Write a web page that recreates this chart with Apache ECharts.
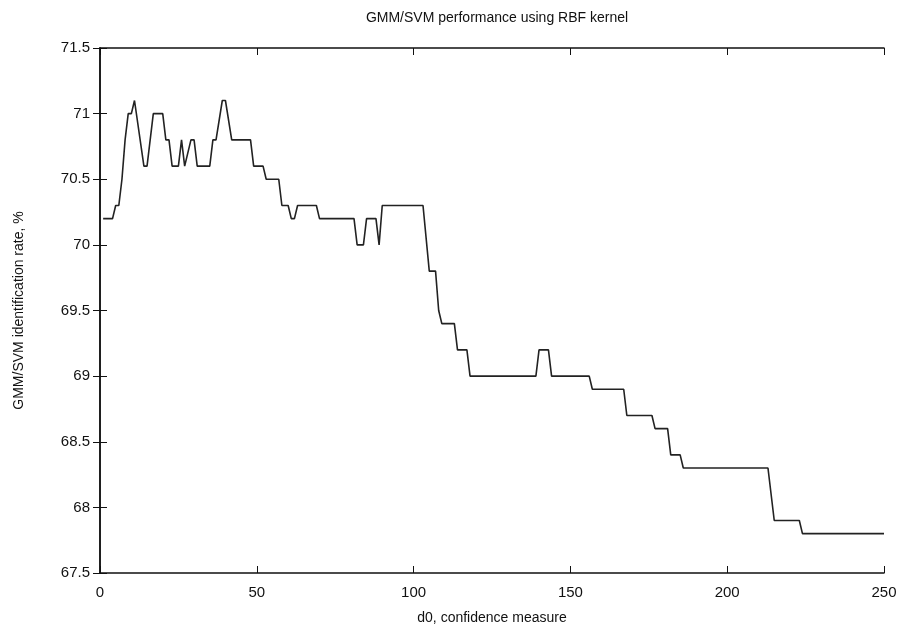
<!DOCTYPE html>
<html>
<head>
<meta charset="utf-8">
<script src="https://cdn.jsdelivr.net/npm/echarts@6/dist/echarts.min.js"></script>
<style>html,body{margin:0;padding:0;background:#fff}#c{width:906px;height:630px}</style>
</head>
<body>
<div id="c"></div>
<script>
var titleText = 'GMM/SVM performance using RBF kernel';
var xName = 'd0, confidence measure';
var yName = 'GMM/SVM identification rate, %';
var d0 = [1, 4, 5, 6, 7, 8, 9, 10, 11, 14, 15, 17, 20, 21, 22, 23, 25, 26, 27, 29, 30, 31, 35, 36, 37, 39, 40, 42, 48, 49, 52, 53, 57, 58, 60, 61, 62, 63, 69, 70, 81, 82, 84, 85, 88, 89, 90, 103, 105, 107, 108, 109, 113, 114, 117, 118, 139, 140, 143, 144, 156, 157, 167, 168, 176, 177, 181, 182, 185, 186, 213, 215, 223, 224, 250];
var rate = [70.2, 70.2, 70.3, 70.3, 70.5, 70.8, 71.0, 71.0, 71.1, 70.6, 70.6, 71.0, 71.0, 70.8, 70.8, 70.6, 70.6, 70.8, 70.6, 70.8, 70.8, 70.6, 70.6, 70.8, 70.8, 71.1, 71.1, 70.8, 70.8, 70.6, 70.6, 70.5, 70.5, 70.3, 70.3, 70.2, 70.2, 70.3, 70.3, 70.2, 70.2, 70.0, 70.0, 70.2, 70.2, 70.0, 70.3, 70.3, 69.8, 69.8, 69.5, 69.4, 69.4, 69.2, 69.2, 69.0, 69.0, 69.2, 69.2, 69.0, 69.0, 68.9, 68.9, 68.7, 68.7, 68.6, 68.6, 68.4, 68.4, 68.3, 68.3, 67.9, 67.9, 67.8, 67.8];

var data = d0.map(function (x, i) { return [x, rate[i]]; });
var font = '"Liberation Sans", Arial, sans-serif';
var axisLine = {show: true, lineStyle: {color: '#111', width: 1.5}};
var chart = echarts.init(document.getElementById('c'), null, {renderer: 'canvas'});
chart.setOption({
  animation: false,
  backgroundColor: '#fff',
  title: {text: titleText, left: 492, top: 6, textAlign: 'center',
    textStyle: {fontFamily: font, fontSize: 14, fontWeight: 'normal', color: '#111'}},
  grid: {left: 100, right: 22, top: 48, bottom: 55, containLabel: false},
  xAxis: [{
    type: 'value', min: 0, max: 250, interval: 50, position: 'bottom',
    name: xName, nameLocation: 'middle', nameGap: 38,
    nameTextStyle: {fontFamily: font, fontSize: 14, color: '#111'},
    axisLine: axisLine, axisTick: {show: true, inside: true, length: 7, lineStyle: {color: '#111'}},
    axisLabel: {fontFamily: font, fontSize: 15, color: '#111', margin: 12},
    splitLine: {show: false}
  }, {
    type: 'value', min: 0, max: 250, interval: 50, position: 'top',
    axisLine: axisLine, axisTick: {show: true, inside: true, length: 7, lineStyle: {color: '#111'}},
    axisLabel: {show: false}, splitLine: {show: false}
  }],
  yAxis: [{
    type: 'value', min: 67.5, max: 71.5, interval: 0.5, position: 'left',
    name: yName, nameLocation: 'middle', nameGap: 74,
    nameTextStyle: {fontFamily: font, fontSize: 14, color: '#111'},
    axisLine: axisLine, axisTick: {show: true, inside: true, length: 7, lineStyle: {color: '#111'}},
    axisLabel: {fontFamily: font, fontSize: 15, color: '#111', margin: 10},
    splitLine: {show: false}
  }, {
    type: 'value', min: 67.5, max: 71.5, interval: 0.5, position: 'right',
    axisLine: axisLine, axisTick: {show: true, inside: true, length: 7, lineStyle: {color: '#111'}},
    axisLabel: {show: false}, splitLine: {show: false}
  }],
  series: [{
    type: 'line', data: data, xAxisIndex: 0, yAxisIndex: 0,
    showSymbol: false, symbol: 'none',
    lineStyle: {color: '#222', width: 1.6}
  }]
});
</script>
</body>
</html>
